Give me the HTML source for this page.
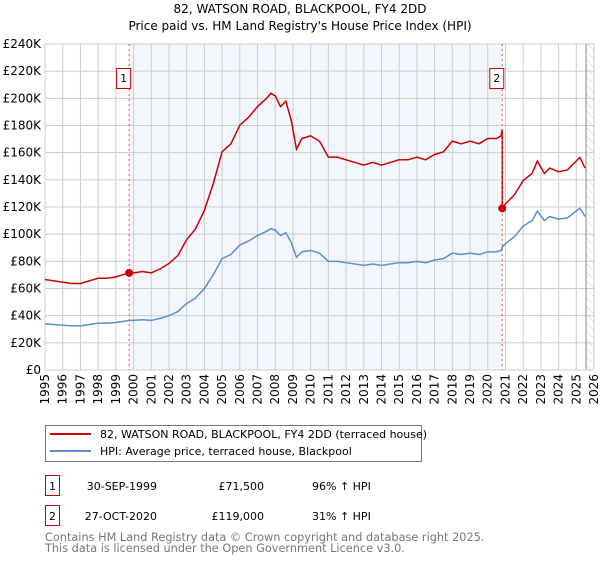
<!DOCTYPE html>
<html><head><meta charset="utf-8"><style>
body{margin:0;background:#fff;font-family:"DejaVu Sans","Liberation Sans",sans-serif;}
svg text{font-family:"DejaVu Sans","Liberation Sans",sans-serif;}
</style></head><body>
<svg id="chart" width="600" height="560" xmlns="http://www.w3.org/2000/svg">
<defs><pattern id="hatch" width="6" height="6" patternUnits="userSpaceOnUse" patternTransform="rotate(-45)"><line x1="0" y1="0" x2="0" y2="6" stroke="#ccc" stroke-width="1"/></pattern></defs>
<text x="300" y="13" text-anchor="middle" font-size="12" fill="#000">82, WATSON ROAD, BLACKPOOL, FY4 2DD</text>
<text x="300" y="30" text-anchor="middle" font-size="12" fill="#000">Price paid vs. HM Land Registry's House Price Index (HPI)</text>
<g id="plot"></g>
<g>
<rect x="45.5" y="425.5" width="376" height="36" fill="#fff" stroke="#777"/>
<line x1="50" y1="434" x2="91" y2="434" stroke="#cc0000" stroke-width="2"/>
<text x="100" y="438" font-size="11">82, WATSON ROAD, BLACKPOOL, FY4 2DD (terraced house)</text>
<line x1="50" y1="451" x2="91" y2="451" stroke="#5b8fd1" stroke-width="2"/>
<text x="100" y="455" font-size="11">HPI: Average price, terraced house, Blackpool</text>
</g>
<g>
<rect x="45.5" y="475.5" width="14" height="20" fill="#fff" stroke="#cc0000"/>
<text x="52.5" y="490" text-anchor="middle" font-size="11">1</text>
<text x="157" y="490" text-anchor="end" font-size="11">30-SEP-1999</text>
<text x="264" y="490" text-anchor="end" font-size="11">£71,500</text>
<text x="312" y="490" font-size="11">96% ↑ HPI</text>
<rect x="45.5" y="505.5" width="14" height="20" fill="#fff" stroke="#cc0000"/>
<text x="52.5" y="520" text-anchor="middle" font-size="11">2</text>
<text x="157" y="520" text-anchor="end" font-size="11">27-OCT-2020</text>
<text x="264" y="520" text-anchor="end" font-size="11">£119,000</text>
<text x="312" y="520" font-size="11">31% ↑ HPI</text>
</g>
<text x="45" y="541" font-size="11.3" fill="#777">Contains HM Land Registry data © Crown copyright and database right 2025.</text>
<text x="45" y="552" font-size="11.3" fill="#777">This data is licensed under the Open Government Licence v3.0.</text>
</svg>
<script>
const yTicks=[0,20,40,60,80,100,120,140,160,180,200,220,240];
const yearTicks=[1995,1996,1997,1998,1999,2000,2001,2002,2003,2004,2005,2006,2007,2008,2009,2010,2011,2012,2013,2014,2015,2016,2017,2018,2019,2020,2021,2022,2023,2024,2025,2026];
const hpiYears=[1995,1995.5,1996,1996.5,1997,1997.5,1998,1998.5,1999,1999.5,1999.75,2000,2000.5,2001,2001.5,2002,2002.5,2003,2003.5,2004,2004.5,2005,2005.5,2006,2006.5,2007,2007.5,2007.75,2008,2008.3,2008.6,2008.9,2009.2,2009.5,2010,2010.5,2011,2011.5,2012,2012.5,2013,2013.5,2014,2014.5,2015,2015.5,2016,2016.5,2017,2017.5,2018,2018.5,2019,2019.5,2020,2020.5,2020.75,2020.82,2021,2021.5,2022,2022.5,2022.8,2023.2,2023.5,2024,2024.5,2025,2025.2,2025.5];
const hpiValues=[34,33.5,33,32.5,32.5,33.5,34.5,34.5,35,36,36.5,36.5,37,36.5,38,40,43,49,53,60,70,82,85,92,95,99,102,104,103,99,101,94,83,87,88,86,80,80,79,78,77,78,77,78,79,79,80,79,81,82,86,85,86,85,87,87,88,90.5,93,98,106,110,117,110,113,111,112,117,119,113];
const saleYears=[1999.75,2020.82];
const salePrices=[71.5,119];
const saleLabels=["1","2"];
const L=45,R=594,T=44,B=370,x0=1995,x1=2026,yMax=240;
const X=y=>L+(y-x0)/(x1-x0)*(R-L);
const Y=v=>B-v/yMax*(B-T);
const ns="http://www.w3.org/2000/svg";
const g=document.getElementById('plot');
function mk(t,a){const e=document.createElementNS(ns,t);for(const k in a)e.setAttribute(k,a[k]);g.appendChild(e);return e;}
function hpiAt(t){for(let i=1;i<hpiYears.length;i++){if(t<=hpiYears[i]){const f=(t-hpiYears[i-1])/(hpiYears[i]-hpiYears[i-1]);return hpiValues[i-1]+f*(hpiValues[i]-hpiValues[i-1]);}}return hpiValues[hpiValues.length-1];}
let e;
e=mk('rect',{x:X(saleYears[0]),y:T,width:X(saleYears[1])-X(saleYears[0]),height:B-T,fill:'#f3f6fd'});


e=mk('rect',{x:X(2025.55),y:T,width:R-X(2025.55),height:B-T,fill:'url(#hatch)'});


yTicks.forEach(v=>{
 e=mk('line',{x1:L,x2:R,y1:Y(v),y2:Y(v),stroke:'#ccc','stroke-width':1});
 
 
 e=mk('text',{x:L-4,y:Y(v)+4,'text-anchor':'end','font-size':12});
 e.textContent=v===0?'£0':'£'+v+'K';
 
 
});
yearTicks.forEach(y=>{
 e=mk('line',{x1:X(y),x2:X(y),y1:T,y2:B,stroke:'#ccc','stroke-width':1});
 
 
 e=mk('text',{x:X(y)+4,y:B+4,'text-anchor':'end','font-size':12,transform:`rotate(-90 ${X(y)+4} ${B+4})`});
 e.textContent=y;
 
 
});
e=mk('line',{x1:X(2025.55),x2:X(2025.55),y1:T,y2:B,stroke:'#888','stroke-width':1});


e=mk('rect',{x:L,y:T,width:R-L,height:B-T,fill:'none',stroke:'#ccc'});


e=mk('polyline',{points:hpiYears.map((t,i)=>X(t)+','+Y(hpiValues[i])).join(' '),fill:'none',stroke:'#5b8fd1','stroke-width':1.5});


const r1=salePrices[0]/hpiAt(saleYears[0]),r2=salePrices[1]/hpiAt(saleYears[1]);
const pts=[];
hpiYears.forEach((t,i)=>{
 if(t<saleYears[1]) pts.push([t,hpiValues[i]*r1]);
 else if(t===saleYears[1]){pts.push([t,hpiValues[i]*r1]);pts.push([t,salePrices[1]]);}
 else pts.push([t,hpiValues[i]*r2]);
});
e=mk('polyline',{points:pts.map(p=>X(p[0])+','+Y(p[1])).join(' '),fill:'none',stroke:'#cc0000','stroke-width':1.5});


saleYears.forEach((t,i)=>{
 e=mk('line',{x1:X(t),x2:X(t),y1:T,y2:B,stroke:'#e05555','stroke-width':1,'stroke-dasharray':'2,3'});
 
 
 e=mk('circle',{cx:X(t),cy:Y(salePrices[i]),r:4,fill:'#cc0000'});
 
 
 e=mk('rect',{x:X(t)-12.5,y:68.5,width:14,height:20,fill:'#fff',stroke:'#cc0000'});
 
 
 e=mk('text',{x:X(t)-5.5,y:82,'text-anchor':'middle','font-size':11});
 e.textContent=saleLabels[i];
 
 
});
</script>
</body></html>
